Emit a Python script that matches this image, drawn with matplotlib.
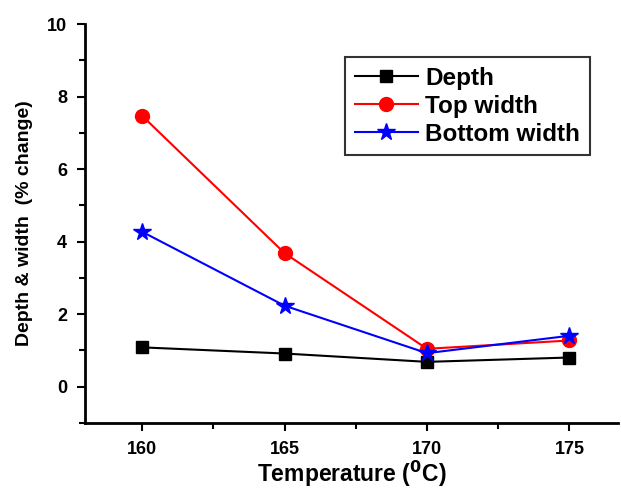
import numpy as np
import matplotlib.pyplot as plt
from matplotlib.ticker import MultipleLocator

plt.rcParams['font.family'] = ['Liberation Sans', 'DejaVu Sans']
plt.rcParams['font.weight'] = 'bold'

temp = [160, 165, 170, 175]
depth = [1.08, 0.91, 0.68, 0.80]
top_width = [7.47, 3.68, 1.04, 1.27]
bottom_width = [4.27, 2.23, 0.92, 1.40]

fig = plt.figure(figsize=(6.21, 4.91), dpi=100)
ax = fig.add_axes([0.137, 0.139, 0.858, 0.812])

ax.plot(temp, depth, color='k', marker='s', markersize=9, lw=1.5, label='Depth')
ax.plot(temp, top_width, color='red', marker='o', markersize=10, lw=1.5, label='Top width')
ax.plot(temp, bottom_width, color='blue', marker='*', markersize=13, lw=1.5, label='Bottom width')

ax.set_xlim(158.0, 176.7)
ax.set_ylim(-1, 10)
ax.set_xticks([160, 165, 170, 175])
ax.set_yticks([0, 2, 4, 6, 8, 10])
ax.xaxis.set_minor_locator(MultipleLocator(2.5))
ax.yaxis.set_minor_locator(MultipleLocator(1))

for s in ['top', 'right']:
    ax.spines[s].set_visible(False)
for s in ['left', 'bottom']:
    ax.spines[s].set_linewidth(2)

ax.tick_params(which='major', direction='out', length=6, width=1.5, labelsize=13, pad=7)
ax.tick_params(which='minor', direction='out', length=4, width=1.5)
for lab in ax.get_xticklabels() + ax.get_yticklabels():
    lab.set_fontweight('bold')

ax.set_xlabel('Temperature ($\\mathbf{^0}$C)', fontsize=16.5, fontweight='bold', labelpad=1)
ax.set_ylabel('Depth & width  (% change)', fontsize=14, fontweight='bold', labelpad=10)

leg = ax.legend(loc='upper right', bbox_to_anchor=(0.947, 0.917), borderaxespad=0,
                fontsize=17.5, frameon=True, fancybox=False, edgecolor='k',
                handlelength=2.6, handletextpad=0.3, borderpad=0.4, labelspacing=0.2)
leg.get_frame().set_linewidth(1.5)
for t in leg.get_texts():
    t.set_fontweight('bold')

plt.savefig('out.png', dpi=100)
